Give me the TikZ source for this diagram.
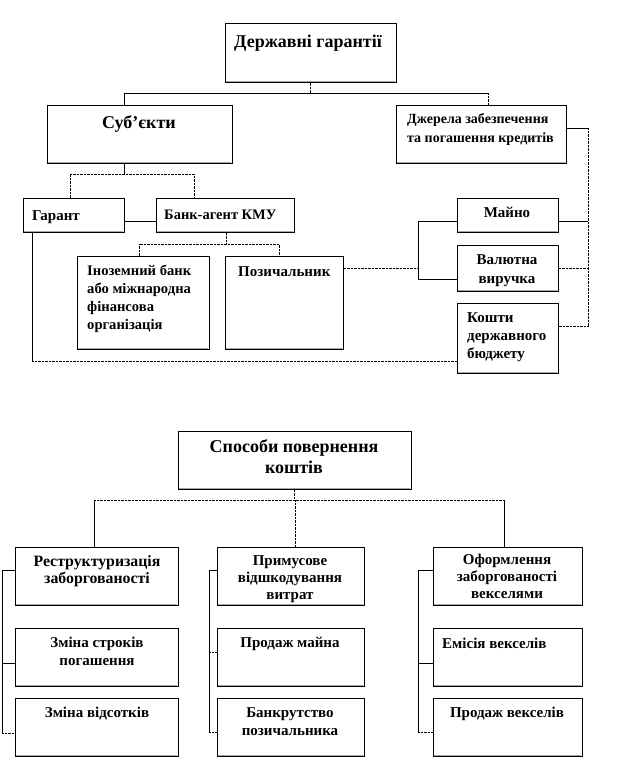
\documentclass[tikz,border=0pt]{standalone}
\usepackage{fontspec}
\setmainfont{Liberation Serif}
\usetikzlibrary{calc}
\begin{document}
\begin{tikzpicture}[x=1pt,y=-1pt,
  box/.style={draw=black, line width=0.7pt, anchor=north west, inner sep=0pt, fill=white},
  sol/.style={line width=0.8pt},
  dot/.style={line width=0.8pt, dash pattern=on 0.7pt off 0.7pt},
  shade/.style={black!35, line width=1pt},
  hd/.style={inner sep=0pt, anchor=north, align=center, font=\fontsize{18}{21}\selectfont\bfseries},
  tx/.style={inner sep=0pt, anchor=north west, align=left, font=\fontsize{15}{18.5}\selectfont\bfseries},
  tc/.style={inner sep=0pt, anchor=north, align=center, font=\fontsize{15}{18}\selectfont\bfseries},
  tcs/.style={inner sep=0pt, anchor=north, align=center, font=\fontsize{15}{16.7}\selectfont\bfseries}]
\useasboundingbox (0,0) rectangle (623,757);

% ---------- boxes, upper part
\node[box, minimum width=171pt, minimum height=59pt] (top) at (225,23) {};
\node[box, minimum width=185pt, minimum height=58pt] (subj) at (47,105) {};
\node[box, minimum width=170pt, minimum height=58pt] (dzh) at (396,105) {};
\node[box, minimum width=101pt, minimum height=34pt] (gar) at (23,198) {};
\node[box, minimum width=138pt, minimum height=34pt] (bank) at (156,198) {};
\node[box, minimum width=132pt, minimum height=93pt] (inoz) at (77,256) {};
\node[box, minimum width=118pt, minimum height=93pt] (poz) at (225,256) {};
\node[box, minimum width=101pt, minimum height=34pt] (mayno) at (457,198) {};
\node[box, minimum width=101pt, minimum height=46pt] (val) at (457,245) {};
\node[box, minimum width=101pt, minimum height=70pt] (kosh) at (457,303) {};

% ---------- boxes, lower part
\node[box, minimum width=233pt, minimum height=58pt] (spos) at (178,431) {};
\node[box, minimum width=163pt, minimum height=58pt] (restr) at (15,547) {};
\node[box, minimum width=147pt, minimum height=58pt] (prym) at (217,547) {};
\node[box, minimum width=149pt, minimum height=58pt] (oform) at (433,547) {};
\node[box, minimum width=163pt, minimum height=58pt] (zmstr) at (15,628) {};
\node[box, minimum width=147pt, minimum height=58pt] (prmayno) at (217,628) {};
\node[box, minimum width=149pt, minimum height=58pt] (emis) at (433,628) {};
\node[box, minimum width=163pt, minimum height=58pt] (zmvid) at (15,698) {};
\node[box, minimum width=147pt, minimum height=58pt] (bankr) at (217,698) {};
\node[box, minimum width=149pt, minimum height=58pt] (prveks) at (433,698) {};

% ---------- faint shadow line inside the lower edge of every box
\foreach \n in {top,subj,dzh,gar,bank,inoz,poz,mayno,val,kosh,spos,restr,prym,oform,zmstr,prmayno,emis,zmvid,bankr,prveks}
  \draw[shade] ([shift={(1.2pt,1.6pt)}]\n.south west) -- ([shift={(-1.6pt,1.6pt)}]\n.south east);

% ---------- texts
\node[hd] (ttop) at (308,33) {\strut Державні гарантії};
\node[hd] (tsubj) at (139,114) {\strut Суб’єкти};
\node[tx, font=\fontsize{14}{19}\selectfont\bfseries] (tdzh) at (407,110) {\strut Джерела забезпечення\\та погашення кредитів};
\node[tx] (tgar) at (32,207) {\strut Гарант};
\node[tx, font=\fontsize{14.5}{18}\selectfont\bfseries] (tbank) at (164,207) {\strut Банк-агент КМУ};
\node[tx, font=\fontsize{14.6}{18}\selectfont\bfseries] (tinoz) at (87,263) {\strut Іноземний банк\\або міжнародна\\фінансова\\організація};
\node[tx] (tpoz) at (238,263) {\strut Позичальник};
\node[tc] (tmayno) at (507,205) {\strut Майно};
\node[tc, font=\fontsize{15}{19}\selectfont\bfseries] (tval) at (507,251) {\strut Валютна\\виручка};
\node[tx, font=\fontsize{15}{18}\selectfont\bfseries] (tkosh) at (467,310) {\strut Кошти\\державного\\бюджету};

\node[hd] (tspos) at (294,438) {\strut Способи повернення\\коштів};
\node[tc, font=\fontsize{15.8}{17}\selectfont\bfseries] (trestr) at (97,554) {\strut Реструктуризація\\заборгованості};
\node[tcs] (tprym) at (290,554) {\strut Примусове\\відшкодування\\витрат};
\node[tcs] (toform) at (507,553) {\strut Оформлення\\заборгованості\\векселями};
\node[tc] (tzmstr) at (97,635) {\strut Зміна строків\\погашення};
\node[tc] (tzmvid) at (97,705) {\strut Зміна відсотків};
\node[tc] (tprmayno) at (290,635) {\strut Продаж майна};
\node[tc] (tbankr) at (290,705) {\strut Банкрутство\\позичальника};
\node[tx] (temis) at (442,635) {\strut Емісія векселів};
\node[tc] (tprveks) at (507,705) {\strut Продаж векселів};

% ---------- junction coordinates
\coordinate (jL) at (124,93);
\coordinate (jR) at (488,93);
\coordinate (s1) at (124,174);
\coordinate (gA) at (70,174);
\coordinate (gB) at (194,174);
\coordinate (b1) at (226,244);
\coordinate (bA) at (139,244);
\coordinate (bB) at (279,244);
\coordinate (pv) at (418,268);
\coordinate (pvt) at (418,221);
\coordinate (pvb) at (418,279);
\coordinate (r0) at (588,128);
\coordinate (r3) at (588,326);
\coordinate (lp) at (32,361);

% ---------- connectors, upper part
\draw[dot] (top.south) -- (top.south |- jL);
\draw[sol] (jL) -- (jR);
\draw[sol] (jL) -- (jL |- subj.north);
\draw[dot] (jR) -- (jR |- dzh.north);
\draw[sol] (s1 |- subj.south) -- (s1);
\draw[dot] (gA |- gar.north) -- (gA) -- (gB) -- (gB |- bank.north);
\draw[sol] ([yshift=-6pt]gar.east) -- ([yshift=-6pt]bank.west);
\draw[dot] (b1 |- bank.south) -- (b1);
\draw[dot] (bA |- inoz.north) -- (bA) -- (bB) -- (bB |- poz.north);
\draw[dot] (pv -| poz.east) -- (pv);
\draw[sol] (pvt -| mayno.west) -- (pvt) -- (pvb) -- (pvb -| val.west);
\draw[sol] (r0 -| dzh.east) -- (r0);
\draw[dot] (r0) -- (r3) -- (r3 -| kosh.east);
\draw[sol] (pvt -| mayno.east) -- (pvt -| r0);
\draw[dot] (pv -| val.east) -- (pv -| r0);
\draw[sol] (lp |- gar.south) -- (lp);
\draw[dot] (lp) -- (lp -| kosh.west);

% ---------- connectors, lower part
\coordinate (q0) at (295,500);
\coordinate (qL) at (94,500);
\coordinate (qR) at (504,500);
\draw[dot] (spos.south) -- (spos.south |- q0);
\draw[dot] (qL) -- (qR);
\draw[sol] (qL) -- (qL |- restr.north);
\draw[dot] (q0) -- (q0 |- prym.north);
\draw[sol] (qR) -- (qR |- oform.north);

\coordinate (la) at (2,570);
\coordinate (lb) at (2,663);
\coordinate (lc) at (2,733);
\draw[sol] (la -| restr.west) -- (la) -- (lc);
\draw[sol] (lb) -- (lb -| zmstr.west);
\draw[dot] (lc) -- (lc -| zmvid.west);

\coordinate (ma) at (209,570);
\coordinate (mb) at (209,652);
\coordinate (mc) at (209,732);
\draw[sol] (ma -| prym.west) -- (ma) -- (mc);
\draw[dot] (mb) -- (mb -| prmayno.west);
\draw[dot] (mc) -- (mc -| bankr.west);

\coordinate (ra) at (418,570);
\coordinate (rb) at (418,663);
\coordinate (rc) at (418,732);
\draw[sol] (ra -| oform.west) -- (ra) -- (rc);
\draw[sol] (rb) -- (rb -| emis.west);
\draw[dot] (rc) -- (rc -| prveks.west);
\end{tikzpicture}
\end{document}
